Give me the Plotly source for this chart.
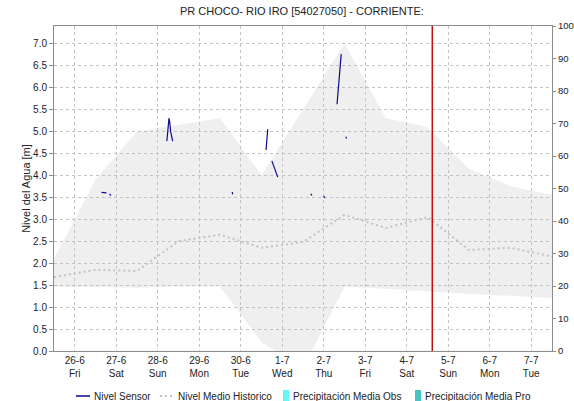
import pandas as pd
import plotly.graph_objects as go

# Historical envelope and mean, one value per day at noon
dias_hist = pd.date_range("2015-06-25 12:00", "2015-07-07 12:00", freq="D")
hist_max = [2.1, 3.9, 5.0, 5.15, 5.3, 4.0, 5.5, 7.0, 5.3, 5.1, 4.15, 3.75, 3.55]
hist_min = [1.46, 1.46, 1.44, 1.47, 1.47, 0.2, -0.4, 1.46, 1.42, 1.36, 1.30, 1.26, 1.20]
hist_medio = [1.68, 1.85, 1.82, 2.5, 2.65, 2.35, 2.48, 3.1, 2.8, 3.05, 2.3, 2.35, 2.15]

# Sensor readings (None marks a gap between transmissions)
sensor_t = [
    "2015-06-26 15:27", "2015-06-26 18:20", None,
    "2015-06-26 20:10", "2015-06-26 20:53", None,
    "2015-06-28 05:17", "2015-06-28 06:00", "2015-06-28 06:29", "2015-06-28 06:58",
    "2015-06-28 07:26", "2015-06-28 08:38", None,
    "2015-06-29 18:58", "2015-06-29 19:26", None,
    "2015-06-30 14:38", "2015-06-30 15:07", "2015-06-30 15:36", None,
    "2015-06-30 18:00", "2015-06-30 19:41", "2015-06-30 21:22", None,
    "2015-07-01 16:34", "2015-07-01 17:02", None,
    "2015-07-02 00:00", "2015-07-02 00:29", None,
    "2015-07-02 07:41", "2015-07-02 08:24", "2015-07-02 08:53", "2015-07-02 09:36",
    "2015-07-02 10:05", None,
    "2015-07-02 12:43", "2015-07-02 13:12",
]
sensor_nivel = [
    3.61, 3.60, None,
    3.58, 3.54, None,
    4.78, 5.10, 5.30, 5.20, 5.00, 4.78, None,
    3.62, 3.57, None,
    4.58, 4.82, 5.05, None,
    4.33, 4.15, 3.96, None,
    3.58, 3.54, None,
    3.53, 3.48, None,
    5.62, 6.00, 6.25, 6.50, 6.76, None,
    4.88, 4.84,
]

# Daily precipitation (nothing recorded in this period)
precip_t = pd.date_range("2015-06-26 12:00", "2015-07-07 12:00", freq="D")
precip_obs = [0.0] * 12
precip_pro = [0.0] * 12

# Current time marker
ahora = "2015-07-04 14:46"

# Axis ticks
tick_fechas = pd.date_range("2015-06-26", "2015-07-07", freq="D")
tick_texto = [f"{d.day}-{d.month}<br>{d.strftime('%a')}" for d in tick_fechas]
y_ticks = [i * 0.5 for i in range(15)]

FONT = "Liberation Sans, Arial, sans-serif"
TXT = "#222222"
GRID = "#c4c4c4"
AXIS = "#8c8c8c"
C_SENSOR = "#0a0a8c"
C_MEDIO = "#c2c2c2"
C_OBS = "#66f6f6"
C_PRO = "#44c4c4"

fig = go.Figure()

# envelope: lower bound then upper bound filled to it
fig.add_trace(go.Scatter(
    x=dias_hist, y=hist_min, mode="lines", line=dict(width=0),
    showlegend=False, hoverinfo="skip"))
fig.add_trace(go.Scatter(
    x=dias_hist, y=hist_max, mode="lines", line=dict(width=0),
    fill="tonexty", fillcolor="rgba(190,190,190,0.24)",
    showlegend=False, hoverinfo="skip"))

fig.add_trace(go.Scatter(
    x=sensor_t, y=sensor_nivel, mode="lines", name="Nivel Sensor",
    line=dict(color=C_SENSOR, width=1.2), connectgaps=False, showlegend=False))
fig.add_trace(go.Scatter(
    x=dias_hist, y=hist_medio, mode="lines", name="Nivel Medio Historico",
    line=dict(color=C_MEDIO, width=2, dash="2px,3px"), showlegend=False))

fig.add_trace(go.Bar(x=precip_t, y=precip_obs, name="Precipitación Media Obs",
                     marker_color=C_OBS, yaxis="y2", showlegend=False))
fig.add_trace(go.Bar(x=precip_t, y=precip_pro, name="Precipitación Media Pro",
                     marker_color=C_PRO, yaxis="y2", showlegend=False))

fig.add_vline(x=pd.Timestamp(ahora), line=dict(color="#c01010", width=1.5))

# Compact single-row legend below the axis (paper coordinates)
L, R, T, B = 54, 22, 26, 50
W, H = 574, 401
pw, ph = W - L - R, H - T - B


def px(x):
    return (x - L) / pw


def py(y):
    return (H - B - y) / ph


ley_y = 396
fig.add_shape(type="line", xref="paper", yref="paper",
              x0=px(76), x1=px(90), y0=py(ley_y), y1=py(ley_y),
              line=dict(color=C_SENSOR, width=1.5))
fig.add_shape(type="line", xref="paper", yref="paper",
              x0=px(160), x1=px(174), y0=py(ley_y), y1=py(ley_y),
              line=dict(color=C_MEDIO, width=2, dash="2px,3px"))
fig.add_shape(type="rect", xref="paper", yref="paper",
              x0=px(283), x1=px(289), y0=py(ley_y + 6), y1=py(ley_y - 6),
              line=dict(width=0), fillcolor=C_OBS)
fig.add_shape(type="rect", xref="paper", yref="paper",
              x0=px(415), x1=px(421), y0=py(ley_y + 6), y1=py(ley_y - 6),
              line=dict(width=0), fillcolor=C_PRO)
for xt, texto in [(92, "Nivel Sensor"), (176, "Nivel Medio Historico"),
                  (291, "Precipitación Media Obs"), (423, "Precipitación Media Pro")]:
    fig.add_annotation(x=px(xt), y=py(ley_y), xref="paper", yref="paper",
                       text=texto, showarrow=False, xanchor="left", yanchor="middle",
                       font=dict(family=FONT, size=10, color=TXT))

fig.update_layout(
    width=W, height=H,
    margin=dict(l=L, r=R, t=T, b=B, autoexpand=False),
    paper_bgcolor="white", plot_bgcolor="white",
    font=dict(family=FONT, size=11, color=TXT),
    title=dict(text="PR CHOCO- RIO IRO [54027050] - CORRIENTE:",
               x=0.526, xanchor="center", y=0.972, yanchor="middle",
               font=dict(family=FONT, size=11, color=TXT)),
    showlegend=False,
    xaxis=dict(
        range=[pd.Timestamp("2015-06-25 12:00"), pd.Timestamp("2015-07-07 12:00")],
        tickvals=tick_fechas, ticktext=tick_texto,
        tickfont=dict(size=10), automargin=False,
        showgrid=True, gridcolor=GRID, griddash="3px,3px", gridwidth=1,
        showline=True, linecolor=AXIS, linewidth=1, mirror=True,
        ticks="", zeroline=False),
    yaxis=dict(
        range=[0, 7.4], tickvals=y_ticks, tickformat=".1f",
        tickfont=dict(size=10), automargin=False,
        title=dict(text="Nivel del Agua [m]", font=dict(size=11), standoff=0),
        showgrid=True, gridcolor=GRID, griddash="3px,3px", gridwidth=1,
        showline=True, linecolor=AXIS, linewidth=1,
        ticks="outside", ticklen=4, tickcolor=AXIS, zeroline=False),
    yaxis2=dict(
        range=[0, 100], dtick=10, overlaying="y", side="right",
        tickfont=dict(size=9.5), showgrid=False, automargin=False,
        showline=True, linecolor=AXIS, linewidth=1,
        ticks="outside", ticklen=3, tickcolor=AXIS, zeroline=False),
)

fig.write_html("out.html")
